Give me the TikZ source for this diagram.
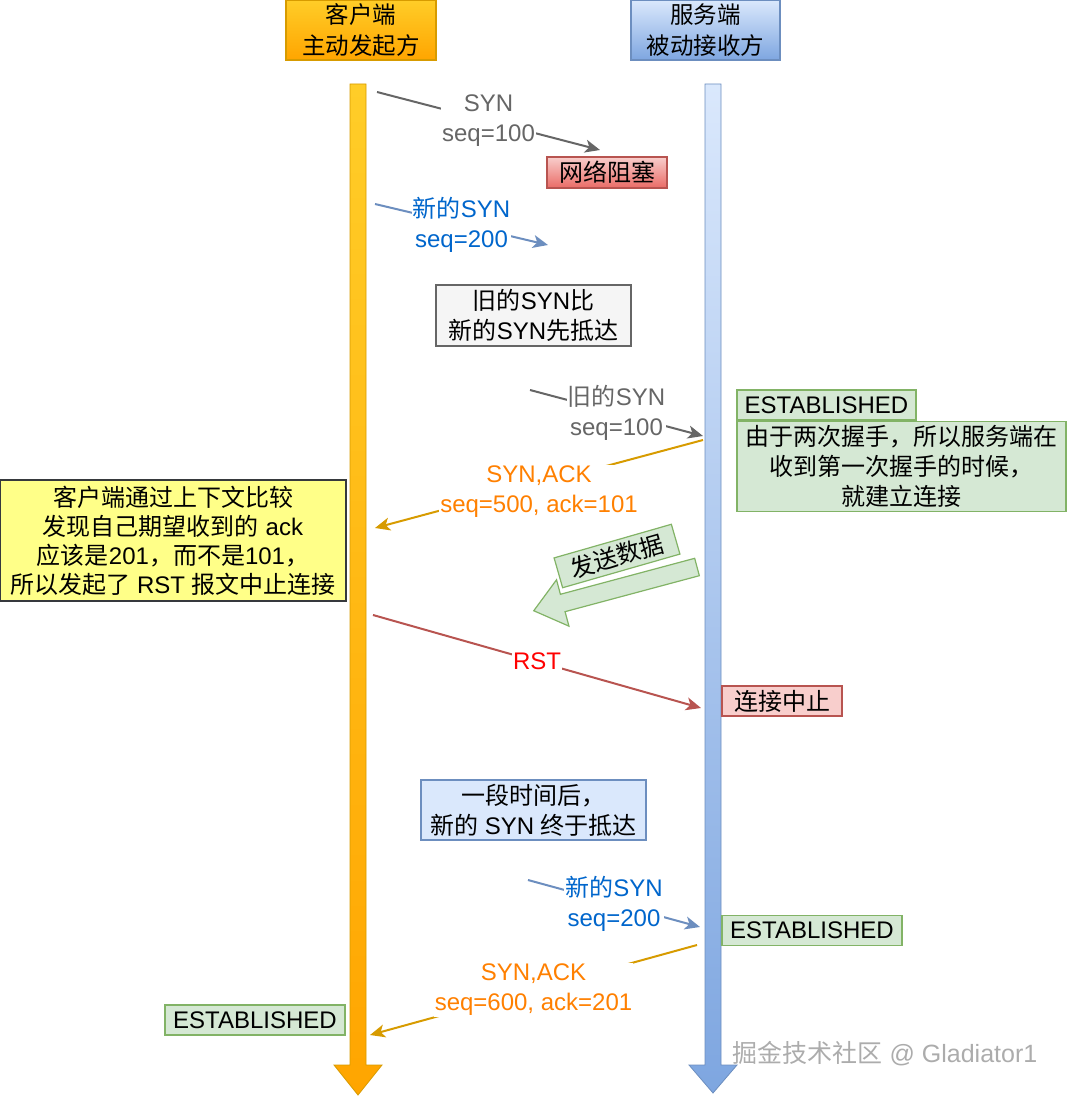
\documentclass[tikz,border=0pt]{standalone}
\usepackage{fontspec}
\setmainfont{Liberation Sans}
\newfontfamily\cjk{Noto Sans CJK SC}
\newcommand{\zh}[1]{{\cjk #1}}
\usepackage{xcolor}
\usetikzlibrary{arrows.meta,positioning,shapes}

\definecolor{orgline}{HTML}{D79B00}
\definecolor{orgtop}{HTML}{FFCD28}
\definecolor{orgbot}{HTML}{FFA500}
\definecolor{bluline}{HTML}{6C8EBF}
\definecolor{blutop}{HTML}{DAE8FC}
\definecolor{blubot}{HTML}{7EA6E0}
\definecolor{grnfill}{HTML}{D5E8D4}
\definecolor{grnline}{HTML}{82B366}
\definecolor{redfill}{HTML}{F8CECC}
\definecolor{reddark}{HTML}{EA6B66}
\definecolor{redline}{HTML}{B85450}
\definecolor{grytxt}{HTML}{666666}
\definecolor{blutxt}{HTML}{0066CC}
\definecolor{orgtxt}{HTML}{FF8000}
\definecolor{ylwfill}{HTML}{FFFF88}
\definecolor{ylwline}{HTML}{36393D}

\begin{document}
\begin{tikzpicture}[x=1pt,y=-1pt,font=\fontsize{24}{30}\selectfont]
    \tikzstyle{box} = [rectangle, draw, line width=1.2pt, inner sep=0pt, align=center]
    \tikzstyle{state} = [box, fill=grnfill, draw=grnline, minimum width=179, minimum height=30]
    \tikzstyle{msg} = [line width=2pt, -{Stealth[length=15pt,width=13pt,inset=4pt]}]
    \tikzstyle{lbl} = [fill=white, inner sep=1pt, align=center]

    \useasboundingbox (0,0) rectangle (1068,1097);

    % heads
    \node [box, top color=orgtop, bottom color=orgbot, draw=orgline, minimum width=150, minimum height=60, font=\fontsize{23.5}{31}\selectfont] (cli) at (361,30) {\zh{客户端}\\\zh{主动发起方}};
    \node [box, top color=blutop, bottom color=blubot, draw=bluline, minimum width=149, minimum height=60, font=\fontsize{23.5}{31}\selectfont] (srv) at (705.5,30) {\zh{服务端}\\\zh{被动接收方}};

    % lifelines
    \shade [top color=orgtop, bottom color=orgbot, draw=orgline, line width=0.8pt]
        (350,84) -- (366,84) -- (366,1065) -- (382,1065) -- (358,1095) -- (334,1065) -- (350,1065) -- cycle;
    \shade [top color=blutop, bottom color=blubot, draw=bluline, line width=0.8pt]
        (705,84) -- (721,84) -- (721,1065) -- (737,1065) -- (713,1093) -- (689,1065) -- (705,1065) -- cycle;

    \coordinate (c1) at (377,92);    \coordinate (m1) at (600,150);
    \coordinate (c2) at (375,204);   \coordinate (m2) at (548,245);
    \coordinate (m3) at (530,390);   \coordinate (s3) at (703,436);
    \coordinate (s4) at (703,440);   \coordinate (c4) at (375,528);
    \coordinate (c5) at (373,615);   \coordinate (s5) at (701,708);
    \coordinate (m6) at (528,880);   \coordinate (s6) at (700,927);
    \coordinate (s7) at (697,945);   \coordinate (c7) at (370,1035);

    \node [box, top color=redfill, bottom color=reddark, draw=redline, minimum width=120, minimum height=31] (jam) at (607,172.5) {\zh{网络阻塞}};
    \node [box, fill=gray!8, draw=grytxt, minimum width=195, minimum height=61] (race) at (533.5,315.5) {\zh{旧的}SYN\zh{比}\\\zh{新的}SYN\zh{先抵达}};
    \node [state] (est1) at (826.5,405) {ESTABLISHED};
    \node [box, fill=grnfill, draw=grnline, minimum width=329, minimum height=90, anchor=north west] (why) at (est1.south west) {\zh{由于两次握手，所以服务端在}\\\zh{收到第一次握手的时候，}\\\zh{就建立连接}};
    \node [box, fill=ylwfill, draw=ylwline, minimum width=346, minimum height=121, font=\fontsize{24}{29}\selectfont] (note) at (173,540.5) {\zh{客户端通过上下文比较}\\\zh{发现自己期望收到的} ack\\\zh{应该是}201\zh{，而不是}101\zh{，}\\\zh{所以发起了} RST \zh{报文中止连接}};
    \node [box, fill=redfill, draw=redline, minimum width=120, minimum height=30] (abort) at (782,701) {\zh{连接中止}};
    \node [box, fill=blutop, draw=bluline, minimum width=225, minimum height=60] (later) at (533.5,810) {\zh{一段时间后，}\\\zh{新的} SYN \zh{终于抵达}};
    \node [state, minimum width=180] (est2) at (812,930.5) {ESTABLISHED};
    \node [state, minimum width=180] (est3) at (255,1020) {ESTABLISHED};

    % messages
    \draw [msg, grytxt] (c1) -- (m1) node[pos=0.5, lbl, text=grytxt] {SYN\\seq=100};
    \draw [msg, bluline] (c2) -- (m2) node[pos=0.5, lbl, text=blutxt] {\zh{新的}SYN\\seq=200};
    \draw [msg, grytxt] (m3) -- (s3) node[pos=0.5, lbl, text=grytxt] {\zh{旧的}SYN\\seq=100};
    \draw [msg, orgline] (s4) -- (c4) node[pos=0.5, lbl, text=orgtxt, yshift=-8pt] {SYN,ACK\\seq=500, ack=101};
    \draw [msg, redline] (c5) -- (s5) node[pos=0.5, lbl, text=red] {RST};
    \draw [msg, bluline] (m6) -- (s6) node[pos=0.5, lbl, text=blutxt] {\zh{新的}SYN\\seq=200};
    \draw [msg, orgline] (s7) -- (c7) node[pos=0.5, lbl, text=orgtxt] {SYN,ACK\\seq=600, ack=201};

    % data arrow
    \begin{scope}[shift={(697,567)}, rotate=195]
        \draw [fill=grnfill, draw=grnline, line width=1.2pt]
            (0,-9) -- (139,-9) -- (139,-24) -- (169,0) -- (139,24) -- (139,9) -- (0,9) -- cycle;
    \end{scope}
    \node [box, fill=grnfill, draw=grnline, minimum width=122, minimum height=31, rotate=16] (data) at (617,556) {\zh{发送数据}};

    \node [text=gray!65, font=\fontsize{25}{28}\selectfont] (mark) at (885,1054) {\zh{掘金技术社区} @ Gladiator1};
\end{tikzpicture}
\end{document}
